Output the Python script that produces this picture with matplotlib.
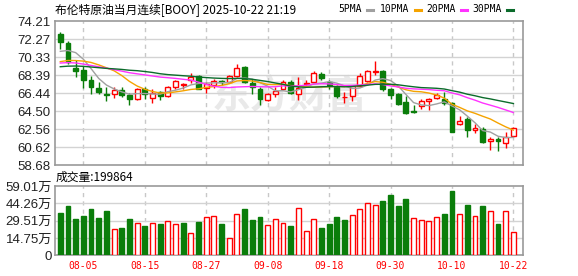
import matplotlib
matplotlib.use("Agg")
import matplotlib.pyplot as plt
from matplotlib.patches import Rectangle
from matplotlib.lines import Line2D
import pandas as pd

# daily bars, 2025-07-31 .. 2025-10-22
dates = pd.bdate_range("2025-07-31", "2025-10-22")
opens = [72.85, 71.85, 69.21, 68.92, 67.85, 66.96, 66.39, 66.32, 66.78, 66.21,
         65.85, 66.85, 65.92, 66.60, 66.14, 67.14, 67.30, 67.85, 68.30, 67.00,
         67.28, 67.80, 67.67, 68.28, 69.24, 67.49, 66.92, 65.70, 66.31, 66.92,
         67.67, 66.32, 67.38, 67.67, 68.56, 67.60, 67.10, 65.98, 66.14, 67.20,
         67.78, 68.71, 68.88, 66.85, 66.31, 65.45, 64.52, 65.06, 65.64, 65.96,
         65.85, 65.40, 63.09, 63.62, 62.46, 62.56, 61.22, 61.47, 61.10, 61.86]
highs = [73.00, 72.07, 70.07, 69.35, 68.28, 67.64, 67.14, 67.10, 67.14, 66.42,
         67.03, 67.10, 66.92, 66.71, 67.21, 67.92, 67.57, 68.57, 68.40, 67.70,
         68.00, 67.92, 68.46, 69.64, 69.35, 68.00, 67.14, 66.50, 67.14, 67.92,
         67.85, 68.21, 67.92, 68.88, 68.71, 67.85, 67.28, 66.60, 67.28, 68.57,
         69.00, 69.96, 69.00, 67.03, 66.42, 66.14, 65.14, 65.85, 65.92, 66.50,
         66.57, 65.50, 63.97, 63.87, 63.16, 62.81, 61.75, 61.75, 62.28, 62.77]
lows = [71.21, 69.64, 68.21, 67.03, 66.32, 66.32, 65.60, 65.92, 66.07, 65.21,
        65.71, 65.78, 65.42, 65.71, 66.00, 66.92, 66.92, 67.56, 66.85, 66.50,
        67.00, 67.28, 67.50, 68.21, 67.57, 66.32, 65.13, 65.60, 66.07, 66.78,
        66.32, 65.67, 67.14, 67.50, 67.92, 66.90, 65.92, 65.42, 65.60, 67.14,
        67.67, 68.46, 66.67, 65.78, 65.21, 64.14, 64.28, 64.78, 64.64, 65.78,
        65.14, 62.20, 63.05, 61.75, 62.10, 61.04, 60.34, 60.23, 60.50, 61.75]
closes = [71.92, 69.85, 68.85, 67.85, 67.07, 66.57, 66.28, 66.75, 66.25, 65.78,
          66.92, 66.32, 66.50, 66.14, 67.14, 67.71, 67.48, 68.21, 66.92, 67.40,
          67.74, 67.60, 68.28, 69.17, 67.63, 67.10, 65.78, 66.31, 66.67, 67.67,
          66.45, 67.00, 67.56, 68.60, 68.03, 67.30, 66.15, 66.08, 67.20, 68.27,
          68.85, 68.89, 66.85, 66.21, 65.30, 64.30, 64.46, 65.59, 65.85, 66.20,
          65.42, 62.25, 63.48, 62.46, 62.63, 61.15, 61.47, 61.22, 61.75, 62.70]
# closes before the window, only used to start the moving averages
history = [68.0, 68.4, 68.9, 69.2, 68.8, 68.5, 68.3, 68.1, 68.4, 68.4,
           69.0, 69.6, 70.2, 70.0, 69.5, 69.3, 69.9, 69.5, 69.2, 69.3,
           68.6, 68.9, 68.5, 68.5, 69.2, 69.4, 70.0, 71.4, 72.1]
# volume in 万
volumes = [36.3, 42.0, 31.2, 33.5, 39.4, 31.8, 38.0, 22.4, 23.5, 30.9,
           27.5, 25.0, 27.5, 26.7, 29.2, 26.7, 27.5, 18.7, 28.7, 32.3,
           33.5, 26.7, 14.5, 34.9, 39.4, 30.4, 32.6, 25.8, 30.6, 27.5,
           25.0, 40.0, 20.7, 30.6, 23.3, 26.7, 32.6, 30.1, 34.3, 39.4,
           44.5, 42.6, 46.2, 51.4, 42.0, 47.9, 31.5, 30.1, 29.2, 32.3,
           35.2, 54.8, 34.9, 42.8, 33.2, 42.0, 37.7, 26.7, 37.7, 19.99]

price_ticks = [58.68, 60.62, 62.56, 64.50, 66.44, 68.39, 70.33, 72.27, 74.21]
price_labels = ["58.68", "60.62", "62.56", "64.50", "66.44", "68.39", "70.33", "72.27", "74.21"]
vol_ticks = [0, 14.75, 29.51, 44.26, 59.01]
vol_labels = ["0", "14.75万", "29.51万", "44.26万", "59.01万"]
date_labels = ["08-05", "08-15", "08-27", "09-08", "09-18", "09-30", "10-10", "10-22"]
ma_periods = [5, 10, 20, 30]
ma_names = ["5PMA", "10PMA", "20PMA", "30PMA"]

RED = "#ff0000"
GREEN = "#0a7d0a"
ma_colors = ["#a0a0a0", "#f5a300", "#ff33ff", "#0b6b2b"]
W, H = 578, 276


def fx(px):
    return px / W


def fy(py):
    return 1 - py / H


fig = plt.figure(figsize=(W / 100, H / 100), dpi=100)
ax = fig.add_axes([fx(55), fy(165), fx(523) - fx(55), fy(21.3) - fy(165)])
axv = fig.add_axes([fx(55), fy(255.3), fx(523) - fx(55), fy(186) - fy(255.3)])

n = len(closes)
md = list(dates.strftime("%m-%d"))
date_pos = [md.index(d) for d in date_labels]

# candles
for i in range(n):
    o, h, l, c = opens[i], highs[i], lows[i], closes[i]
    up = c >= o
    col = RED if up else GREEN
    lo, hi = min(o, c), max(o, c)
    ax.vlines(i, l, h, color=col, lw=1, zorder=3)
    ax.add_patch(Rectangle((i - 0.32, lo), 0.64, max(hi - lo, 0.03),
                           facecolor="white" if up else col, edgecolor=col,
                           lw=1, zorder=3))

# moving averages
all_closes = pd.Series(history + closes)
for p, col in zip(ma_periods, ma_colors):
    ma = all_closes.rolling(p).mean().iloc[len(history):].values
    ax.plot(range(n), ma, color=col, lw=1, zorder=4)

# volume, coloured against the previous close
prev = [history[-1]] + closes[:-1]
for i in range(n):
    up = closes[i] >= prev[i]
    col = RED if up else GREEN
    axv.add_patch(Rectangle((i - 0.32, 0), 0.64, volumes[i],
                            facecolor="white" if up else col, edgecolor=col,
                            lw=1, zorder=3))

for a in (ax, axv):
    a.set_xlim(-0.69, 60.25)
    for x in date_pos:
        a.axvline(x, color="#c8c8c8", lw=1, ls=(0, (3, 3)), zorder=1)
    for s in a.spines.values():
        s.set_color("#999999")
        s.set_linewidth(1.2)
    a.tick_params(length=0)

ax.set_ylim(price_ticks[0], price_ticks[-1])
ax.set_yticks(price_ticks)
ax.set_yticklabels(price_labels, family="Liberation Sans", fontsize=9.5, color="#222222")
ax.set_xticks([])
for t in price_ticks[1:-1]:
    ax.axhline(t, color="#d3d3d3", lw=1, zorder=1)

axv.set_ylim(vol_ticks[0], vol_ticks[-1])
axv.set_yticks(vol_ticks)
axv.set_yticklabels(vol_labels, family=["Liberation Sans", "Noto Sans CJK SC"],
                    fontsize=9.5, color="#222222")
for t in vol_ticks[1:-1]:
    axv.axhline(t, color="#d3d3d3", lw=1, zorder=1)
axv.set_xticks(date_pos)
axv.set_xticklabels(date_labels, family="DejaVu Sans Mono", fontsize=7, color=RED)
axv.tick_params(axis="x", pad=4)
ax.tick_params(axis="y", pad=3)
axv.tick_params(axis="y", pad=2)

# watermark
ax.text(fx(289), fy(97), "东方财富", transform=fig.transFigure, ha="center",
        va="center", fontsize=28, fontweight="bold", color="#e9e9e9",
        family="Noto Sans CJK SC", zorder=0)

# header and legend
fig.text(fx(55), fy(9.5), "布伦特原油当月连续[BOOY] 2025-10-22 21:19",
         family="Noto Sans CJK SC", fontsize=8.5, va="center", ha="left")
fig.text(fx(56), fy(177.5), "成交量:199864", family="Noto Sans CJK SC",
         fontsize=8.5, va="center", ha="left")
leg_x = [338, 380, 426, 472]
for x0, name, col in zip(leg_x, ma_names, ma_colors):
    t = fig.text(fx(x0), fy(9.5), name, family="DejaVu Sans Mono", fontsize=7,
                 va="center", ha="left")
    x1 = x0 + 6.2 * len(name) + 4
    fig.add_artist(Line2D([fx(x1), fx(x1 + 6)], [fy(9.5), fy(9.5)],
                          color=col, lw=2.2, transform=fig.transFigure))

fig.savefig("out.png", dpi=100)
